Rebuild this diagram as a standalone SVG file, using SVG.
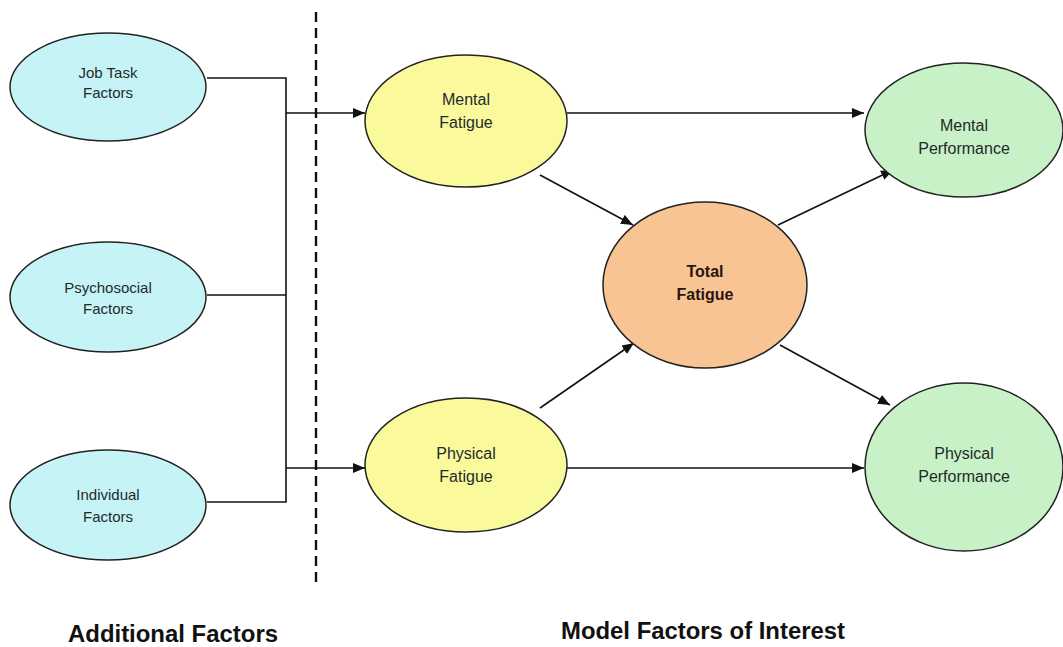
<svg xmlns="http://www.w3.org/2000/svg" width="1063" height="647" viewBox="0 0 1063 647">
<defs>
<marker id="ah" markerWidth="12" markerHeight="10" refX="12" refY="5" orient="auto" markerUnits="userSpaceOnUse">
<path d="M0,0 L12,5 L0,10 Z" fill="#111"/>
</marker>
<style>
.n{stroke:#222;stroke-width:1.5}
.c{fill:#c6f3f6}.y{fill:#fafa9c}.o{fill:#f8c494}.g{fill:#c8f1c8}
.t{font-family:"Liberation Sans",Arial,sans-serif;font-size:16px;fill:#1f2b2b;text-anchor:middle}
.s{font-size:15px}
.b{font-weight:bold;fill:#2a1510}
.l{font-family:"Liberation Sans",Arial,sans-serif;font-size:23px;font-weight:bold;fill:#111;text-anchor:middle}
.w{fill:none;stroke:#111;stroke-width:1.6}
</style>
</defs>
<rect width="1063" height="647" fill="#fff"/>
<g id="connectors">
<line x1="316" y1="12" x2="316" y2="584" stroke="#111" stroke-width="2.4" stroke-dasharray="10,6"/>
<polyline class="w" points="207,78 286,78 286,502 207,502"/>
<line class="w" x1="207" y1="295" x2="286" y2="295"/>
<line class="w" x1="286" y1="113" x2="365" y2="113" marker-end="url(#ah)"/>
<line class="w" x1="286" y1="468" x2="365" y2="468" marker-end="url(#ah)"/>
<line class="w" x1="567" y1="113" x2="864" y2="113" marker-end="url(#ah)"/>
<line class="w" x1="567" y1="468" x2="864" y2="468" marker-end="url(#ah)"/>
<line class="w" x1="540" y1="175" x2="633" y2="225" marker-end="url(#ah)"/>
<line class="w" x1="540" y1="408" x2="634" y2="343" marker-end="url(#ah)"/>
<line class="w" x1="778" y1="225" x2="893" y2="170" marker-end="url(#ah)"/>
<line class="w" x1="780" y1="345" x2="890" y2="405" marker-end="url(#ah)"/>
</g>
<g id="job-task"><ellipse class="n c" cx="108" cy="87" rx="98" ry="54"/><text class="t s" x="108" y="78">Job Task</text><text class="t s" x="108" y="98">Factors</text></g>
<g id="psychosocial"><ellipse class="n c" cx="108" cy="297" rx="98" ry="55"/><text class="t s" x="108" y="293">Psychosocial</text><text class="t s" x="108" y="314">Factors</text></g>
<g id="individual"><ellipse class="n c" cx="108" cy="505" rx="98" ry="55"/><text class="t s" x="108" y="500">Individual</text><text class="t s" x="108" y="522">Factors</text></g>
<g id="mental-fatigue"><ellipse class="n y" cx="466" cy="121" rx="101" ry="66"/><text class="t" x="466" y="105">Mental</text><text class="t" x="466" y="128">Fatigue</text></g>
<g id="physical-fatigue"><ellipse class="n y" cx="466" cy="465" rx="101" ry="67"/><text class="t" x="466" y="459">Physical</text><text class="t" x="466" y="482">Fatigue</text></g>
<g id="total-fatigue"><ellipse class="n o" cx="705" cy="285" rx="102" ry="83"/><text class="t b" x="705" y="277">Total</text><text class="t b" x="705" y="300">Fatigue</text></g>
<g id="mental-performance"><ellipse class="n g" cx="964" cy="130" rx="99" ry="67"/><text class="t" x="964" y="131">Mental</text><text class="t" x="964" y="154">Performance</text></g>
<g id="physical-performance"><ellipse class="n g" cx="964" cy="467" rx="99" ry="84"/><text class="t" x="964" y="459">Physical</text><text class="t" x="964" y="482">Performance</text></g>
<g id="labels">
<text class="l" x="173" y="642" textLength="210" lengthAdjust="spacingAndGlyphs">Additional Factors</text>
<text class="l" x="703" y="639" textLength="284" lengthAdjust="spacingAndGlyphs">Model Factors of Interest</text>
</g>
</svg>
